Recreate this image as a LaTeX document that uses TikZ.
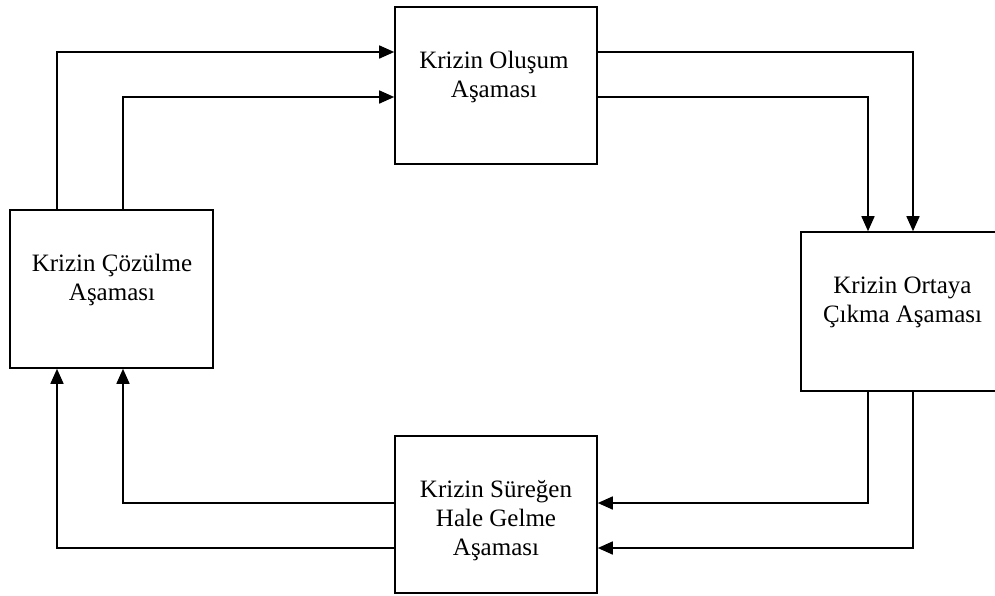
\documentclass[tikz,border=0pt]{standalone}
\usepackage{fontspec}
\setmainfont{Liberation Serif}
\usetikzlibrary{arrows.meta}
\begin{document}
\begin{tikzpicture}[x=1pt,y=-1pt,
  stage/.style={draw, line width=1.6pt, minimum width=202pt, minimum height=157pt, inner sep=0pt},
  caption/.style={anchor=north, inner sep=0pt, align=center, font=\fontsize{25}{29}\selectfont},
  flow/.style={-{Triangle[length=15pt,width=13pt]}, line width=1.6pt}]
\clip (0,0) rectangle (995,595);
% boxes
\node[stage] (T) at (496,85.5) {};
\node[stage, minimum width=203pt, minimum height=158pt] (L) at (111.5,289) {};
\node[stage, minimum width=203pt, minimum height=159pt] (R) at (902.5,311.5) {};
\node[stage] (B) at (496,514.5) {};
% texts
\node[caption] (Tt) at (494,51) {Krizin Oluşum\\Aşaması};
\node[caption] (Lt) at (112,254) {Krizin Çözülme\\Aşaması};
\node[caption] (Rt) at (902.5,277) {Krizin Ortaya\\Çıkma Aşaması};
\node[caption] (Bt) at (496,480) {Krizin Süreğen\\Hale Gelme\\Aşaması};
% bends
\coordinate (a1) at (57,52);
\coordinate (a2) at (123,97);
\coordinate (b1) at (913,52);
\coordinate (b2) at (868,97);
\coordinate (c1) at (868,503);
\coordinate (c2) at (913,548);
\coordinate (d1) at (123,503);
\coordinate (d2) at (57,548);
% connectors
\draw[flow] (L.north -| a1) -- (a1) -- (T.west |- a1);
\draw[flow] (L.north -| a2) -- (a2) -- (T.west |- a2);
\draw[flow] (T.east |- b1) -- (b1) -- (R.north -| b1);
\draw[flow] (T.east |- b2) -- (b2) -- (R.north -| b2);
\draw[flow] (R.south -| c1) -- (c1) -- (B.east |- c1);
\draw[flow] (R.south -| c2) -- (c2) -- (B.east |- c2);
\draw[flow] (B.west |- d1) -- (d1) -- (L.south -| d1);
\draw[flow] (B.west |- d2) -- (d2) -- (L.south -| d2);
\end{tikzpicture}
\end{document}
